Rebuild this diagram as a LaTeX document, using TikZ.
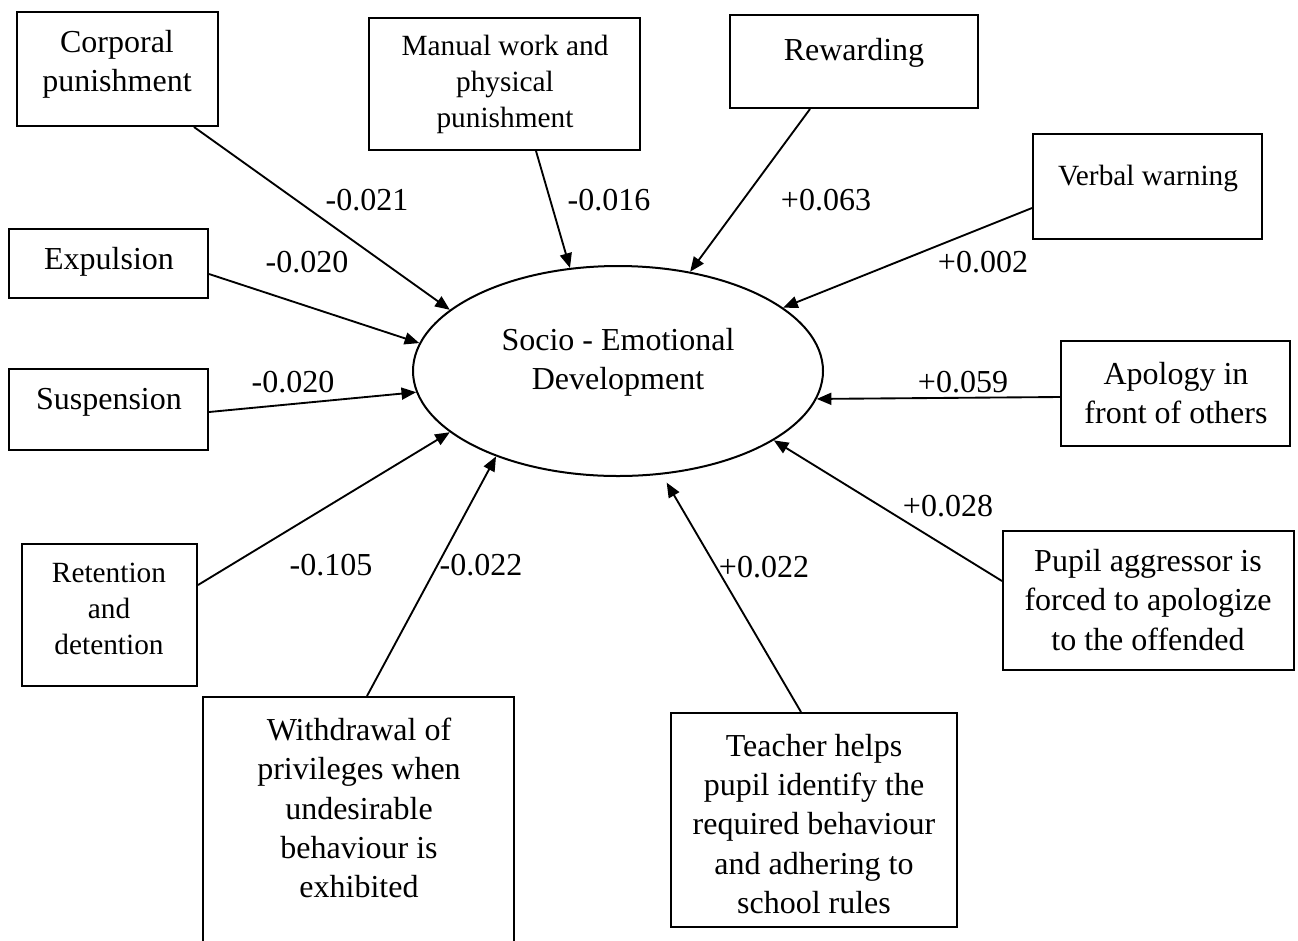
\documentclass[tikz,border=0pt]{standalone}
\usepackage{fontspec}
\setmainfont{Liberation Serif}
\usetikzlibrary{arrows.meta,shapes.geometric,fit,calc}
\begin{document}
\begin{tikzpicture}[x=0.75pt,y=-0.75pt,
  box/.style={draw, line width=1.5pt, inner sep=0pt},
  big/.style={font=\fontsize{24}{29.5}\selectfont, align=center, inner sep=0pt},
  small/.style={font=\fontsize{22}{27}\selectfont, align=center, inner sep=0pt},
  lab/.style={font=\fontsize{24}{29}\selectfont, inner sep=0pt},
  arr/.style={line width=1.4pt, -{Triangle[length=11pt,width=9pt]}}]
\clip (0,0) rectangle (1298,940);
\fill[white] (0,0) rectangle (1298,940);

% central ellipse
\node[draw, ellipse, line width=1.5pt, minimum width=307.5pt, minimum height=157.5pt, inner sep=0pt] (sed) at (618,371) {};
\node[big] (sedT) at (618,362) {Socio - Emotional\\Development};

% boxes
\node[box, fit={(17,12) (218,126)}] (corp) {};
\node[big] (corpT) at (117,64) {Corporal\\punishment};

\node[box, fit={(369,18) (640,150)}] (manu) {};
\node[small] (manuT) at (505,84) {Manual work and\\physical\\punishment};

\node[box, fit={(730,15) (978,108)}] (rewa) {};
\node[big] (rewaT) at (854,53) {Rewarding};

\node[box, fit={(1033,134) (1262,239)}] (verb) {};
\node[small] (verbT) at (1148,178) {Verbal warning};

\node[box, fit={(9,229) (208,298)}] (expu) {};
\node[big] (expuT) at (109,262) {Expulsion};

\node[box, fit={(9,369) (208,450)}] (susp) {};
\node[big] (suspT) at (109,402) {Suspension};

\node[box, fit={(22,544) (197,686)}] (rete) {};
\node[small] (reteT) at (109,609) {Retention\\and\\detention};

\node[box, fit={(203,697) (514,960)}] (with) {};
\node[big] (withT) at (359,808) {Withdrawal of\\privileges when\\undesirable\\behaviour is\\exhibited};

\node[box, fit={(671,713) (957,927)}] (teac) {};
\node[big] (teacT) at (814,824) {Teacher helps\\pupil identify the\\required behaviour\\and adhering to\\school rules};

\node[box, fit={(1061,341) (1290,446)}] (apol) {};
\node[big] (apolT) at (1176,393) {Apology in\\front of others};

\node[box, fit={(1003,531) (1294,670)}] (pupi) {};
\node[big] (pupiT) at (1148,600) {Pupil aggressor is\\forced to apologize\\to the offended};

% connectors
\draw[arr] ($(corp.south west)+(178,0)$) -- (sed.160.3);
\draw[arr] ($(manu.south west)+(168,0)$) -- (sed.115);
\draw[arr] ($(rewa.south west)+(81,0)$) -- (sed.54.9);
\draw[arr] ($(verb.north west)+(0,75)$) -- (sed.21.2);
\draw[arr] ($(expu.north east)+(0,46)$) -- (sed.172.8);
\draw[arr] ($(susp.north east)+(0,44)$) -- (sed.186.2);
\draw[arr] ($(rete.north east)+(0,42)$) -- (sed.200.1);
\draw[arr] ($(with.north west)+(165,0)$) -- (sed.215.3);
\draw[arr, shorten >=7pt] ($(teac.north west)+(131,0)$) -- (sed.293.6);
\draw[arr] ($(apol.north west)+(0,57)$) -- (sed.352.4);
\draw[arr] ($(pupi.north west)+(0,51)$) -- (sed.336.9);

% labels
\node[lab] (l1) at (367,200) {-0.021};
\node[lab] (l2) at (609,200) {-0.016};
\node[lab] (l3) at (826,200) {+0.063};
\node[lab] (l4) at (983,262) {+0.002};
\node[lab] (l5) at (307,262) {-0.020};
\node[lab] (l6) at (293,382) {-0.020};
\node[lab] (l7) at (963,382) {+0.059};
\node[lab] (l8) at (948,506) {+0.028};
\node[lab] (l9) at (331,565) {-0.105};
\node[lab] (l10) at (481,565) {-0.022};
\node[lab] (l11) at (764,567) {+0.022};
\end{tikzpicture}
\end{document}
